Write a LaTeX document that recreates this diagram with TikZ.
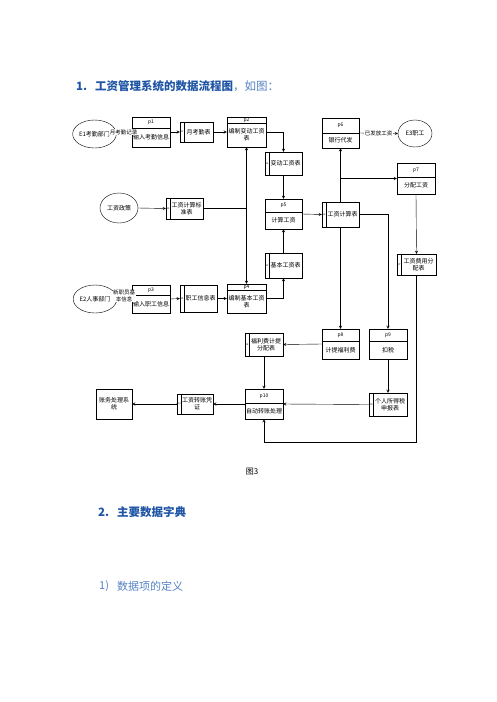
\documentclass[tikz,border=0pt]{standalone}
\usepackage{fontspec}
\newfontfamily\cjk{Noto Sans CJK SC}
\usetikzlibrary{positioning, shapes.geometric, arrows}
\definecolor{headblue}{RGB}{31,85,165}
\definecolor{textblue}{RGB}{85,130,195}
\tikzset{
  proc/.style={draw, rectangle, inner sep=0pt},
  store/.style={draw, rectangle, inner sep=0pt},
  ext/.style={draw, ellipse, inner sep=0pt, font=\cjk\fontsize{6}{7}\selectfont},
  lbl/.style={inner sep=0pt, font=\cjk\fontsize{6}{7}\selectfont, align=center},
  hdlbl/.style={inner sep=0pt, font=\cjk\fontsize{5}{5}\selectfont},
  idlbl/.style={inner sep=0pt, font=\fontsize{2.5}{3}\selectfont},
  flowlbl/.style={fill=white, inner sep=0.5pt, font=\cjk\fontsize{5.5}{6.5}\selectfont, align=center},
}
\begin{document}
\begin{tikzpicture}[x=1pt, y=-1pt, >=stealth]
        \useasboundingbox (0,0) rectangle (496,702);
        % headings
        \node[anchor=west, inner sep=0pt, text=headblue, font=\cjk\bfseries\fontsize{11.5}{13}\selectfont] (t1n) at (76,86) {1.};
        \node[anchor=west, inner sep=0pt, text=headblue, font=\cjk\fontsize{11.5}{13}\selectfont] (t1) at (95,86) {{\bfseries 工资管理系统的数据流程图}\textcolor{textblue}{，如图：}};
        \node[anchor=west, inner sep=0pt, text=headblue, font=\cjk\bfseries\fontsize{11.5}{13}\selectfont] (t2n) at (98,512) {2.};
        \node[anchor=west, inner sep=0pt, text=headblue, font=\cjk\bfseries\fontsize{11.5}{13}\selectfont] (t2) at (117,512) {主要数据字典};
        \node[anchor=west, inner sep=0pt, text=textblue, font=\cjk\fontsize{11}{13}\selectfont] (t3n) at (99,586) {1)};
        \node[anchor=west, inner sep=0pt, text=textblue, font=\cjk\fontsize{11}{13}\selectfont] (t3) at (117,586) {数据项的定义};
        \node[inner sep=0pt, font=\cjk\fontsize{8}{9}\selectfont] (cap) at (252,472) {图3};
        % external entities
        \node[ext, minimum width=37pt, minimum height=28pt] (E1) at (94.5,134) {E1考勤部门};
        \node[ext, minimum width=38pt, minimum height=30pt] (Ep) at (119,208) {工资政策};
        \node[ext, minimum width=36pt, minimum height=28pt] (E2) at (95,299) {E2人事部门};
        \node[ext, minimum width=34pt, minimum height=27pt] (E3) at (415,133.5) {E3职工};
        \node[proc, lbl, minimum width=36pt, minimum height=30pt] (acc) at (114,404) {账务处理系\\统};
        % processes
        \foreach \n/\x/\y/\w/\h/\hd/\txt in {
            p1/151/132/38/30/11/{输入考勤信息},
            p2/246.5/132/39/30/6/{编制变动工资\\表},
            p3/151/299/38/28/10/{输入职工信息},
            p4/246.5/298.5/39/29/6/{编制基本工资\\表},
            p5/283.5/214/37/30/13/{计算工资},
            p6/340.5/133/37/30/15/{银行代发},
            p7/416/178.5/38/31/14/{分配工资},
            p8/340.5/344/37/30/12/{计提福利费},
            p9/388/344/38/30/12/{扣税},
            p10/264/404/38/30/14/{自动转账处理}}
        {
            \node[proc, minimum width=\w pt, minimum height=\h pt] (\n) at (\x,\y) {};
            \draw ([yshift=-\hd pt]\n.north west) -- ([yshift=-\hd pt]\n.north east);
            \node[hdlbl] at ([yshift=-\hd pt/2]\n.north) {\n};
            \node[lbl] at ([yshift=-\hd pt/2]\n.center) {\txt};
        }
        % data stores
        \foreach \n/\x/\y/\w/\h/\txt in {
            d1/196.5/132/33/20/{月考勤表},
            d2/184.5/208.5/37/21/{工资计算标\\准表},
            d3/198.5/298.5/37/27/{职工信息表},
            d4/283.5/163.5/37/23/{变动工资表},
            d5/283.5/265.5/37/25/{基本工资表},
            d6/340.5/214.5/37/25/{工资计算表},
            d7/416.5/264.5/39/21/{工资费用分\\配表},
            d8/264/344.5/38/23/{福利费计提\\分配表},
            d9/388/404.5/38/23/{个人所得税\\申报表},
            d10/195/404/36/20/{工资转账凭\\证}}
        {
            \node[store, minimum width=\w pt, minimum height=\h pt] (\n) at (\x,\y) {};
            \draw ([xshift=4pt]\n.north west) -- ([xshift=4pt]\n.south west);
            \node[idlbl] at ([xshift=2pt]\n.west) {\n};
            \node[lbl] at ([xshift=2pt]\n.center) {\txt};
        }
        % flows
        \draw (E1.east) -- (p1.west);
        \node[flowlbl] (f1) at (123.5,132) {月考勤记录};
        \draw (E2.east) -- (p3.west);
        \node[flowlbl] (f2) at (124,296) {新职员基\\本信息};
        \draw[->] (p1.east) -- (d1.west);
        \draw[->] (d1.east) -- (p2.west);
        \draw[->] (p2.east) -| (d4.north);
        \draw[->] (d4.south) -- (p5.north);
        \draw[->] (Ep.east) -- (d2.west);
        \coordinate (j1) at (d2.east -| p2.south);
        \draw (d2.east) -- (j1);
        \draw[->] (j1) -- (p2.south);
        \draw[->] (j1) -- (p4.north);
        \draw[->] (p3.east) -- (d3.west);
        \draw[->] (d3.east) -- (p4.west);
        \draw[->] (p4.east) -| (d5.south);
        \draw[->] (d5.north) -- (p5.south);
        \draw[->] (p5.east) -- (d6.west);
        \draw[->] (d6.north) -- (p6.south);
        \coordinate (j2) at (d6.north |- p7.west);
        \draw[->] (j2) -- (p7.west);
        \draw[->] (p6.east) -- (E3.west) node[flowlbl, midway] (f3) {已发放工资};
        \draw[->] (d6.east) -| (p9.north);
        \draw[->] (d6.south) -- (p8.north);
        \draw[->] (p8.west) -- (d8.east);
        \draw[->] (d8.south) -- (p10.north);
        \draw[->] (p9.south) -- (d9.north);
        \draw[->] (d9.west) -- (p10.east);
        \draw[->] (p7.south) -- (d7.north);
        \coordinate (d7turn) at (416.5,442);
        \draw[->] (d7.south) -- (d7turn) -| (p10.south);
        \draw[->] (p10.west) -- (d10.east);
        \draw[->] (d10.west) -- (acc.east);
    \end{tikzpicture}
\end{document}
